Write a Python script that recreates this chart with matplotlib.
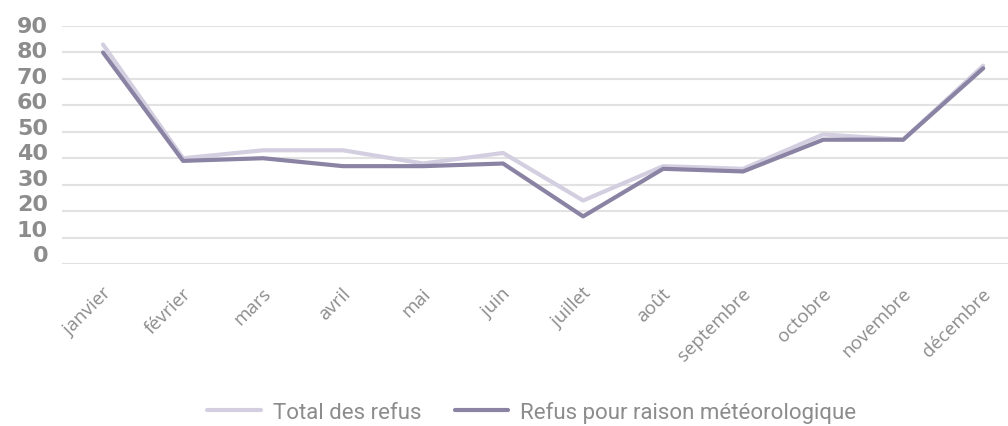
import matplotlib
matplotlib.use("Agg")
import matplotlib.pyplot as plt
import matplotlib.transforms as mtransforms

months = ["janvier", "février", "mars", "avril", "mai", "juin", "juillet",
          "août", "septembre", "octobre", "novembre", "décembre"]
total_refus = [83, 40, 43, 43, 38, 42, 24, 37, 36, 49, 47, 75]
refus_meteo = [80, 39, 40, 37, 37, 38, 18, 36, 35, 47, 47, 74]
y_ticks = [0, 10, 20, 30, 40, 50, 60, 70, 80, 90]

light = "#d3cfe0"
dark = "#8a83a3"
grey = "#8c8c8c"

fig = plt.figure(figsize=(10.08, 4.27), dpi=100)
ax = fig.add_axes([62 / 1008, 1 - 265 / 427, 946 / 1008, 238 / 427])

x = list(range(len(months)))
ax.plot(x, total_refus, color=light, lw=3, label="Total des refus", solid_capstyle="round")
ax.plot(x, refus_meteo, color=dark, lw=3, label="Refus pour raison météorologique", solid_capstyle="round")

ax.set_ylim(0, 90)
ax.set_xlim(-0.5125, 11.31)
ax.set_yticks(y_ticks)
ax.set_yticklabels([str(v) for v in y_ticks], fontsize=16, fontweight="bold",
                   color=grey, family="DejaVu Sans")
ax.yaxis.grid(True, color="#e2e2e2", lw=1.5)
ax.set_axisbelow(True)
ax.tick_params(axis="y", length=0, pad=10)
ax.tick_params(axis="x", length=0, pad=19)

# y labels sit a bit above their gridlines, more so near the bottom
for i, lab in enumerate(ax.get_yticklabels()):
    up = (11 - i * 1.0) / 100
    lab.set_transform(lab.get_transform() + mtransforms.ScaledTranslation(0, up, fig.dpi_scale_trans))

ax.set_xticks(x)
ax.set_xticklabels(months, rotation=45, ha="right", va="center", rotation_mode="anchor",
                   fontsize=13.5, color=grey, family="Open Sans")
offset = mtransforms.ScaledTranslation(5 / 100, 0, fig.dpi_scale_trans)
for lab in ax.get_xticklabels():
    lab.set_transform(lab.get_transform() + offset)

for s in ax.spines.values():
    s.set_visible(False)

leg = ax.legend(loc="center", bbox_to_anchor=(532 / 1008, 1 - 413 / 427), bbox_transform=fig.transFigure,
                ncol=2, frameon=False, handlelength=2.4, columnspacing=1.5, handletextpad=0.55,
                borderpad=0, prop={"family": "Roboto", "size": 16})
for t in leg.get_texts():
    t.set_color(grey)
for h in leg.get_lines():
    h.set_linewidth(3)

fig.savefig("out.png", dpi=100)
